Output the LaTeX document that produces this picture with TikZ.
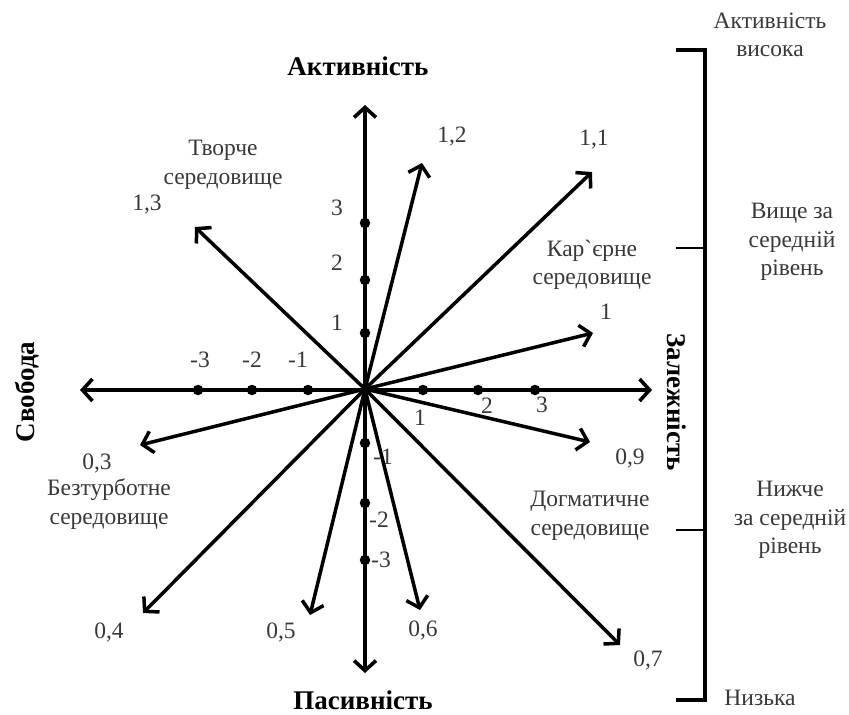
\documentclass[tikz,border=0pt]{standalone}
\usepackage{fontspec}
\setmainfont{Liberation Serif}
\newfontfamily\nolig{Liberation Serif}[Ligatures=TeXOff]
\usetikzlibrary{arrows.meta}
\begin{document}
\begin{tikzpicture}[x=1pt,y=-1pt,
  axx/.style={line width=4pt,{Straight Barb[length=10pt,width=22pt,line width=3.6pt]}-{Straight Barb[length=10pt,width=22pt,line width=3.6pt]}},
  ray/.style={line width=3.5pt,-{Straight Barb[length=10pt,width=22pt,line width=3.5pt]}},
  lbl/.style={font=\fontsize{23.5}{28.5}\selectfont,text=black!78,inner sep=0pt,align=center},
  ttl/.style={font=\fontsize{27}{30}\selectfont\bfseries,inner sep=0pt},
  dotm/.style={circle,fill=black,inner sep=0pt,minimum size=10.5pt},
  brk/.style={line width=3.6pt},
  brkt/.style={line width=2.4pt}]
\useasboundingbox (0,0) rectangle (849,715);
\coordinate (O) at (365,389);
% axes
\coordinate (up) at (365,105);
\coordinate (dn) at (365,673);
\coordinate (lf) at (80,390);
\coordinate (rt) at (652,390);
\draw[axx] (dn) -- (up);
\draw[axx] (lf) -- (rt);
% dots
\foreach \n/\y in {u1/333,u2/280,u3/223,d1/443,d2/503,d3/560}{\node[dotm] (\n) at (365,\y) {};}
\foreach \n/\x in {l1/308,l2/252,l3/198,r1/423,r2/478,r3/535}{\node[dotm] (\n) at (\x,390) {};}
% tick labels
\node[lbl] at (337,208) {3};
\node[lbl] at (337,263) {2};
\node[lbl] at (337,323) {1};
\node[lbl] at (383,457) {-1};
\node[lbl] at (379,520) {-2};
\node[lbl] at (381,560) {-3};
\node[lbl] at (200,360) {-3};
\node[lbl] at (252,360) {-2};
\node[lbl] at (298,360) {-1};
\node[lbl] at (420,418) {1};
\node[lbl] at (487,406) {2};
\node[lbl] at (542,405) {3};
% rays
\coordinate (t13) at (195,227);
\coordinate (t12) at (422,163);
\coordinate (t11) at (592,172);
\coordinate (t10) at (593,333);
\coordinate (t09) at (590,442);
\coordinate (t07) at (620,645);
\coordinate (t06) at (420,610);
\coordinate (t05) at (310,615);
\coordinate (t04) at (143,613);
\coordinate (t03) at (140,445);
\foreach \t in {t13,t12,t11,t10,t09,t07,t06,t05,t04,t03}{\draw[ray] (O) -- (\t);}
% ray labels
\node[lbl] (n13) at (147,205) {1,3};
\node[lbl] (n12) at (452,137) {1,2};
\node[lbl] (n11) at (594,140) {1,1};
\node[lbl] (n10) at (606,312) {1};
\node[lbl] (n09) at (630,458) {0,9};
\node[lbl] (n07) at (648,660) {0,7};
\node[lbl] (n06) at (423,630) {0,6};
\node[lbl] (n05) at (281,632) {0,5};
\node[lbl] (n04) at (109,632) {0,4};
\node[lbl] (n03) at (97,463) {0,3};
% environment labels
\node[lbl] (tv) at (223,165) {Творче\\середовище};
\node[lbl] (kar) at (592,265) {Кар{\nolig`}єрне\\середовище};
\node[lbl] (bez) at (109,504) {Безтурботне\\середовище};
\node[lbl] (dog) at (590,516) {Догматичне\\середовище};
% axis titles
\node[ttl] (akt) at (358,66) {Активність};
\node[ttl] (pas) at (363,700) {Пасивність};
\node[ttl,rotate=90] (svo) at (27,392) {Свобода};
\node[ttl,rotate=-90] (zal) at (677,402) {Залежність};
% bracket
\coordinate (b1) at (676,50);
\coordinate (b2) at (676,248);
\coordinate (b3) at (676,530);
\coordinate (b4) at (676,700);
\draw[brk] (b1) -- (705,50) -- (705,700) -- (b4);
\draw[brkt] (b2) -- (705,248);
\draw[brkt] (b3) -- (705,530);
\node[lbl] (s1) at (770,35) {Активність\\висока};
\node[lbl] (s2) at (792,242) {Вище за\\середній\\рівень};
\node[lbl] (s3) at (790,520) {Нижче\\за середній\\рівень};
\node[lbl] (s4) at (760,698) {Низька};
\end{tikzpicture}
\end{document}
